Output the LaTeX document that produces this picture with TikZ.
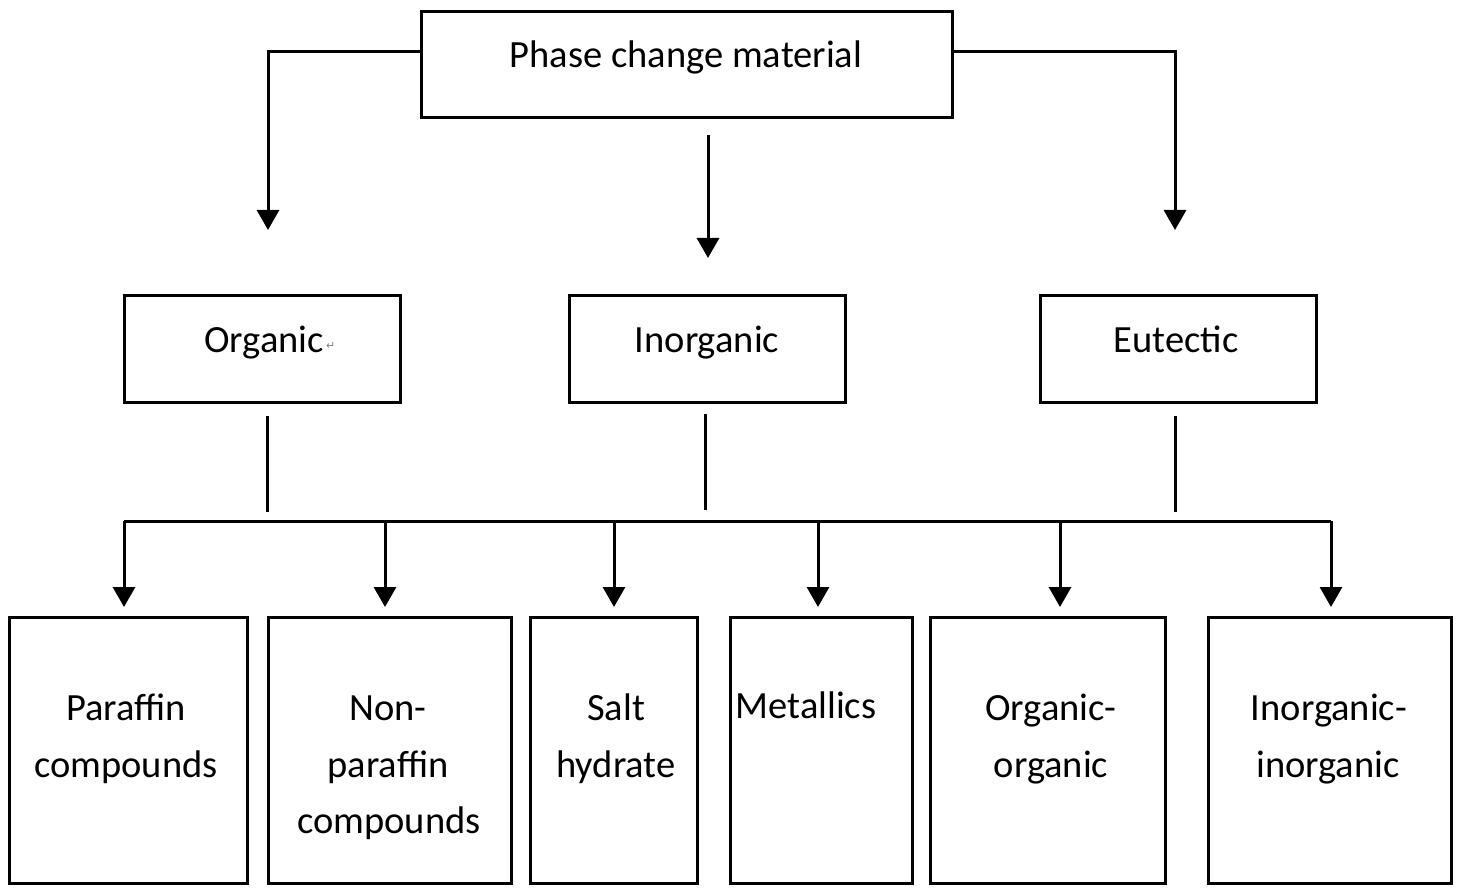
\documentclass[tikz,border=0pt]{standalone}
\usepackage{fontspec}
\setmainfont{Carlito}
\newfontfamily\symf{DejaVu Sans}
\usetikzlibrary{arrows.meta}
\begin{document}
\begin{tikzpicture}[x=1pt,y=-1pt,
  box/.style={draw,line width=3pt,anchor=north west,inner sep=0pt,outer sep=0pt},
  lbl/.style={font=\fontsize{38.5}{57}\selectfont,align=center,anchor=base,inner sep=0pt},
  arr/.style={line width=3pt,-{Triangle[width=22pt,length=20pt]}},
  ln/.style={line width=3pt}]
\useasboundingbox[fill=white] (0,0) rectangle (1460,893);
% boxes
\node[box,minimum width=531pt,minimum height=106pt] (pcm) at (421,12) {};
\node[box,minimum width=276pt,minimum height=107pt] (org) at (124,296) {};
\node[box,minimum width=276pt,minimum height=107pt] (inorg) at (569,296) {};
\node[box,minimum width=276pt,minimum height=107pt] (eut) at (1040,296) {};
\node[box,minimum width=238pt,minimum height=266pt] (par) at (9,617) {};
\node[box,minimum width=243pt,minimum height=266pt] (npar) at (268,617) {};
\node[box,minimum width=167pt,minimum height=266pt] (salt) at (530,617) {};
\node[box,minimum width=182pt,minimum height=266pt] (met) at (730,617) {};
\node[box,minimum width=235pt,minimum height=266pt] (oo) at (930,617) {};
\node[box,minimum width=243pt,minimum height=266pt] (ii) at (1208,617) {};
% labels
\node[lbl] (tpcm) at (686,68) {Phase change material};
\node[lbl] (torg) at (264,353) {Organic};
\node[anchor=base west,inner sep=0pt,text=gray,font=\symf\fontsize{11}{11}\selectfont] (pm) at (326,350) {↵};
\node[lbl] (tinorg) at (707,353) {Inorganic};
\node[lbl] (teut) at (1176,353) {Eutectic};
\node[lbl] (tpar1) at (126,720) {Paraffin};
\node[lbl] (tpar2) at (126,777) {compounds};
\node[lbl] (tnpar1) at (388,720) {Non-};
\node[lbl] (tnpar2) at (388,777) {paraffin};
\node[lbl] (tnpar3) at (389,833) {compounds};
\node[lbl] (tsalt1) at (616,720) {Salt};
\node[lbl] (tsalt2) at (616,777) {hydrate};
\node[lbl] (tmet) at (806,718) {Metallics};
\node[lbl] (too1) at (1051,720) {Organic-};
\node[lbl] (too2) at (1051,777) {organic};
\node[lbl] (tii1) at (1329,720) {Inorganic-};
\node[lbl] (tii2) at (1328,777) {inorganic};
% coordinates
\coordinate (pl) at (421,52);
\coordinate (pr) at (951,52);
\coordinate (al) at (268,230);
\coordinate (ar) at (1175,230);
\coordinate (ms) at (708,135);
\coordinate (am) at (708,258);
\coordinate (v1s) at (267,416);
\coordinate (v1e) at (267,512);
\coordinate (v2s) at (705,414);
\coordinate (v2e) at (705,510);
\coordinate (v3s) at (1175,416);
\coordinate (v3e) at (1175,512);
\coordinate (bl) at (124,521);
\coordinate (br) at (1331,521);
\foreach \n/\x in {a/124,b/385,c/614,d/818,e/1060,f/1331}{
  \coordinate (s\n) at (\x,521);
  \coordinate (t\n) at (\x,607);
}
% connectors
\draw[arr] (pl) -| (al);
\draw[arr] (pr) -| (ar);
\draw[arr] (ms) -- (am);
\draw[ln] (v1s) -- (v1e);
\draw[ln] (v2s) -- (v2e);
\draw[ln] (v3s) -- (v3e);
\draw[ln] (bl) -- (br);
\foreach \n in {a,b,c,d,e,f}{
  \draw[arr] (s\n) -- (t\n);
}
\end{tikzpicture}
\end{document}
